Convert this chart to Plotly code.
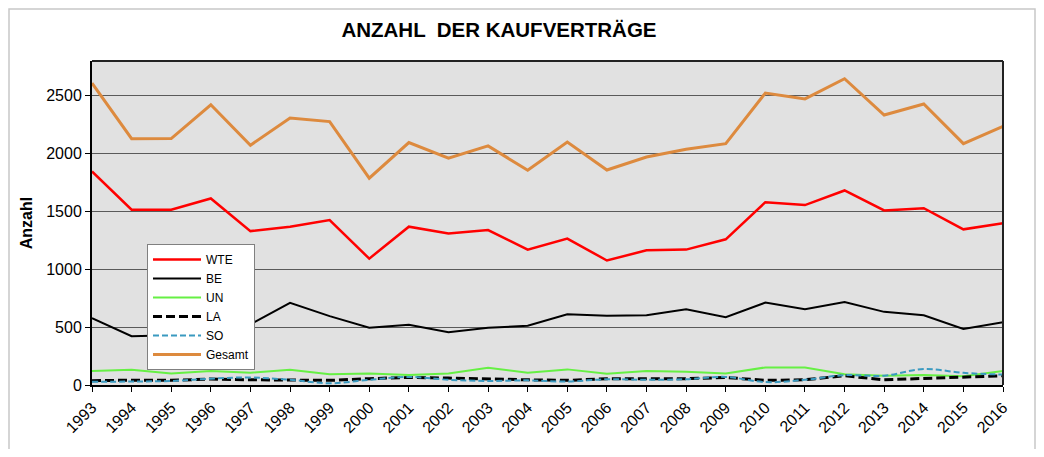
import plotly.graph_objects as go

years = list(range(1993, 2017))
year_labels = [str(y) for y in years]

wte = [1845, 1515, 1515, 1612, 1330, 1368, 1425, 1092, 1368, 1310, 1339, 1170,
       1265, 1076, 1164, 1170, 1259, 1580, 1555, 1681, 1509, 1528, 1345, 1397]
be = [578, 422, 430, 520, 525, 710, 595, 495, 520, 457, 495, 512,
      612, 598, 603, 655, 586, 712, 655, 718, 632, 603, 485, 543]
un = [120, 132, 100, 120, 106, 132, 92, 100, 86, 100, 150, 106,
      135, 97, 120, 114, 100, 152, 152, 92, 80, 86, 75, 120]
la = [37, 42, 40, 52, 45, 45, 40, 55, 65, 60, 50, 45,
      40, 55, 55, 55, 65, 40, 45, 80, 45, 55, 70, 80]
so = [28, 30, 35, 55, 65, 45, 15, 45, 70, 45, 35, 40,
      30, 50, 45, 50, 70, 25, 45, 85, 80, 138, 105, 90]
gesamt = [2609, 2129, 2130, 2422, 2072, 2308, 2276, 1787, 2095, 1960, 2066, 1856,
          2100, 1858, 1970, 2037, 2086, 2523, 2472, 2647, 2333, 2428, 2086, 2235]

y_ticks = [0, 500, 1000, 1500, 2000, 2500]

series = [
    ("WTE", wte, dict(color="#ff0000", width=2.5), "linear"),
    ("BE", be, dict(color="#000000", width=2), "linear"),
    ("UN", un, dict(color="#66f044", width=2), "linear"),
    ("LA", la, dict(color="#000000", width=3, dash="9px,4px"), "linear"),
    ("SO", so, dict(color="#3a9ac0", width=2, dash="6px,3px"), "spline"),
    ("Gesamt", gesamt, dict(color="#dd8a3e", width=3), "linear"),
]

fig = go.Figure()
for name, vals, line, shape in series:
    line = dict(line)
    line["shape"] = shape
    fig.add_trace(go.Scatter(x=year_labels, y=vals, name=name, mode="lines", line=line))

# page is rendered with an 8px body margin; figure coords = page coords - 8
OFF = 8
W, H = 1028, 441
L = 92 - OFF
T = 61 - OFF
R = W - (1003 - OFF)
B = H - (385 - OFF)
pw, ph = W - L - R, H - T - B

def px_to_paper_x(px):
    return (px - OFF - L) / pw

def px_to_paper_y(py):
    return (H - B - (py - OFF)) / ph

fig.update_layout(
    width=W, height=H,
    margin=dict(l=L, r=R, t=T, b=B),
    paper_bgcolor="white",
    plot_bgcolor="#e1e1e1",
    font=dict(family="Liberation Sans, Arial, sans-serif", color="#000000", size=16),
    title=dict(text="<b>ANZAHL  DER KAUFVERTRÄGE</b>", xref="container",
               x=(499 - OFF) / W, xanchor="center",
               y=1 - (30 - OFF) / H, yanchor="middle",
               font=dict(size=20.5, family="Liberation Sans, Arial")),
    showlegend=True,
    legend=dict(x=px_to_paper_x(147), y=px_to_paper_y(244), xanchor="left", yanchor="top",
                bgcolor="white", bordercolor="#808080", borderwidth=1,
                font=dict(size=12, family="Liberation Sans, Arial"),
                tracegroupgap=0, itemwidth=48),
    xaxis=dict(type="category", range=[0, len(years) - 1], tickangle=-45,
               showgrid=False, showline=True, linecolor="#000000", linewidth=2,
               ticks="outside", ticklen=5, tickcolor="#000000", mirror=False,
               tickfont=dict(size=16), zeroline=False),
    yaxis=dict(range=[0, 2800], tickvals=y_ticks, showgrid=True, gridcolor="#5a5a5a",
               gridwidth=1, showline=True, linecolor="#000000", linewidth=2,
               ticks="outside", ticklen=5, tickcolor="#000000", zeroline=False,
               tickfont=dict(size=16),
               title=dict(text="<b>Anzahl</b>", font=dict(size=16), standoff=10)),
    shapes=[
        dict(type="line", xref="paper", yref="paper", x0=0, x1=1, y0=1, y1=1,
             line=dict(color="#222222", width=2)),
        dict(type="line", xref="paper", yref="paper", x0=1, x1=1, y0=0, y1=1,
             line=dict(color="#222222", width=2)),
        dict(type="rect", xref="paper", yref="paper",
             x0=(1 - L) / pw, x1=(W - 1 - L) / pw,
             y0=(H - B - (452 - OFF)) / ph, y1=(H - B - 1) / ph,
             line=dict(color="#c8c8c8", width=1.5), layer="below"),
    ],
)

fig.write_html("out.html")
